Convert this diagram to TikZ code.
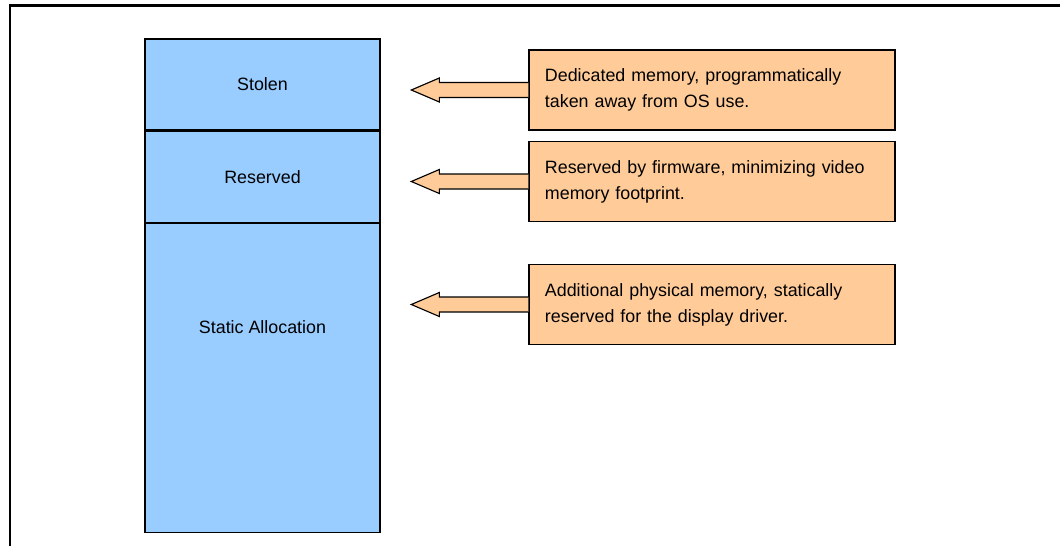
\documentclass[tikz,border=0pt]{standalone}
\usepackage{fontspec}
\setmainfont{Liberation Sans}
\usepackage{tikz}
\usetikzlibrary{positioning,calc}
\usepackage{xcolor}
\definecolor{memblue}{HTML}{99CCFF}
\definecolor{notetan}{HTML}{FFCC99}

\begin{document}
\begin{tikzpicture}[
  x=0.025cm,y=-0.025cm,
  font=\fontsize{12.7}{18.5}\selectfont,
  mem/.style={draw,line width=0.9pt,fill=memblue,minimum width=5.875cm,inner sep=0pt},
  note/.style={draw,line width=0.9pt,fill=notetan,minimum width=9.15cm,minimum height=2cm,
    inner xsep=0.4cm,text width=8.35cm,align=left},
  fat/.style={draw,line width=0.8pt,fill=notetan,line join=miter}]
  \useasboundingbox (0,0) rectangle (1060,546);
  % frame
  \draw[line width=2pt] (10,546) -- (10,5.5) -- (1060,5.5);
  % memory column
  \node[mem,minimum height=2.275cm] (stolen) at (262.5,84.5) {Stolen};
  \node[mem,minimum height=2.275cm,below=0pt of stolen] (reserved) {Reserved};
  \node[mem,minimum height=7.725cm,below=0pt of reserved] (static) {};
  \node (staticlbl) at ($(static.north)+(0,104)$) {Static Allocation};
  % notes
  \node[note] (n1) at (712,90) {Dedicated memory, programmatically\\taken away from OS use.};
  \node[note] (n2) at (712,181.5) {Reserved by firmware, minimizing video\\memory footprint.};
  \node[note] (n3) at (712,304.5) {Additional physical memory, statically\\reserved for the display driver.};
  % fat arrows
  \foreach \n in {n1,n2,n3}
    \draw[fat] (\n.west) ++(0,-7.5) -- ++(-89,0) -- ++(0,-4.5) -- ++(-28,12)
      -- ++(28,12) -- ++(0,-4.5) -- ++(89,0);
\end{tikzpicture}
\end{document}
